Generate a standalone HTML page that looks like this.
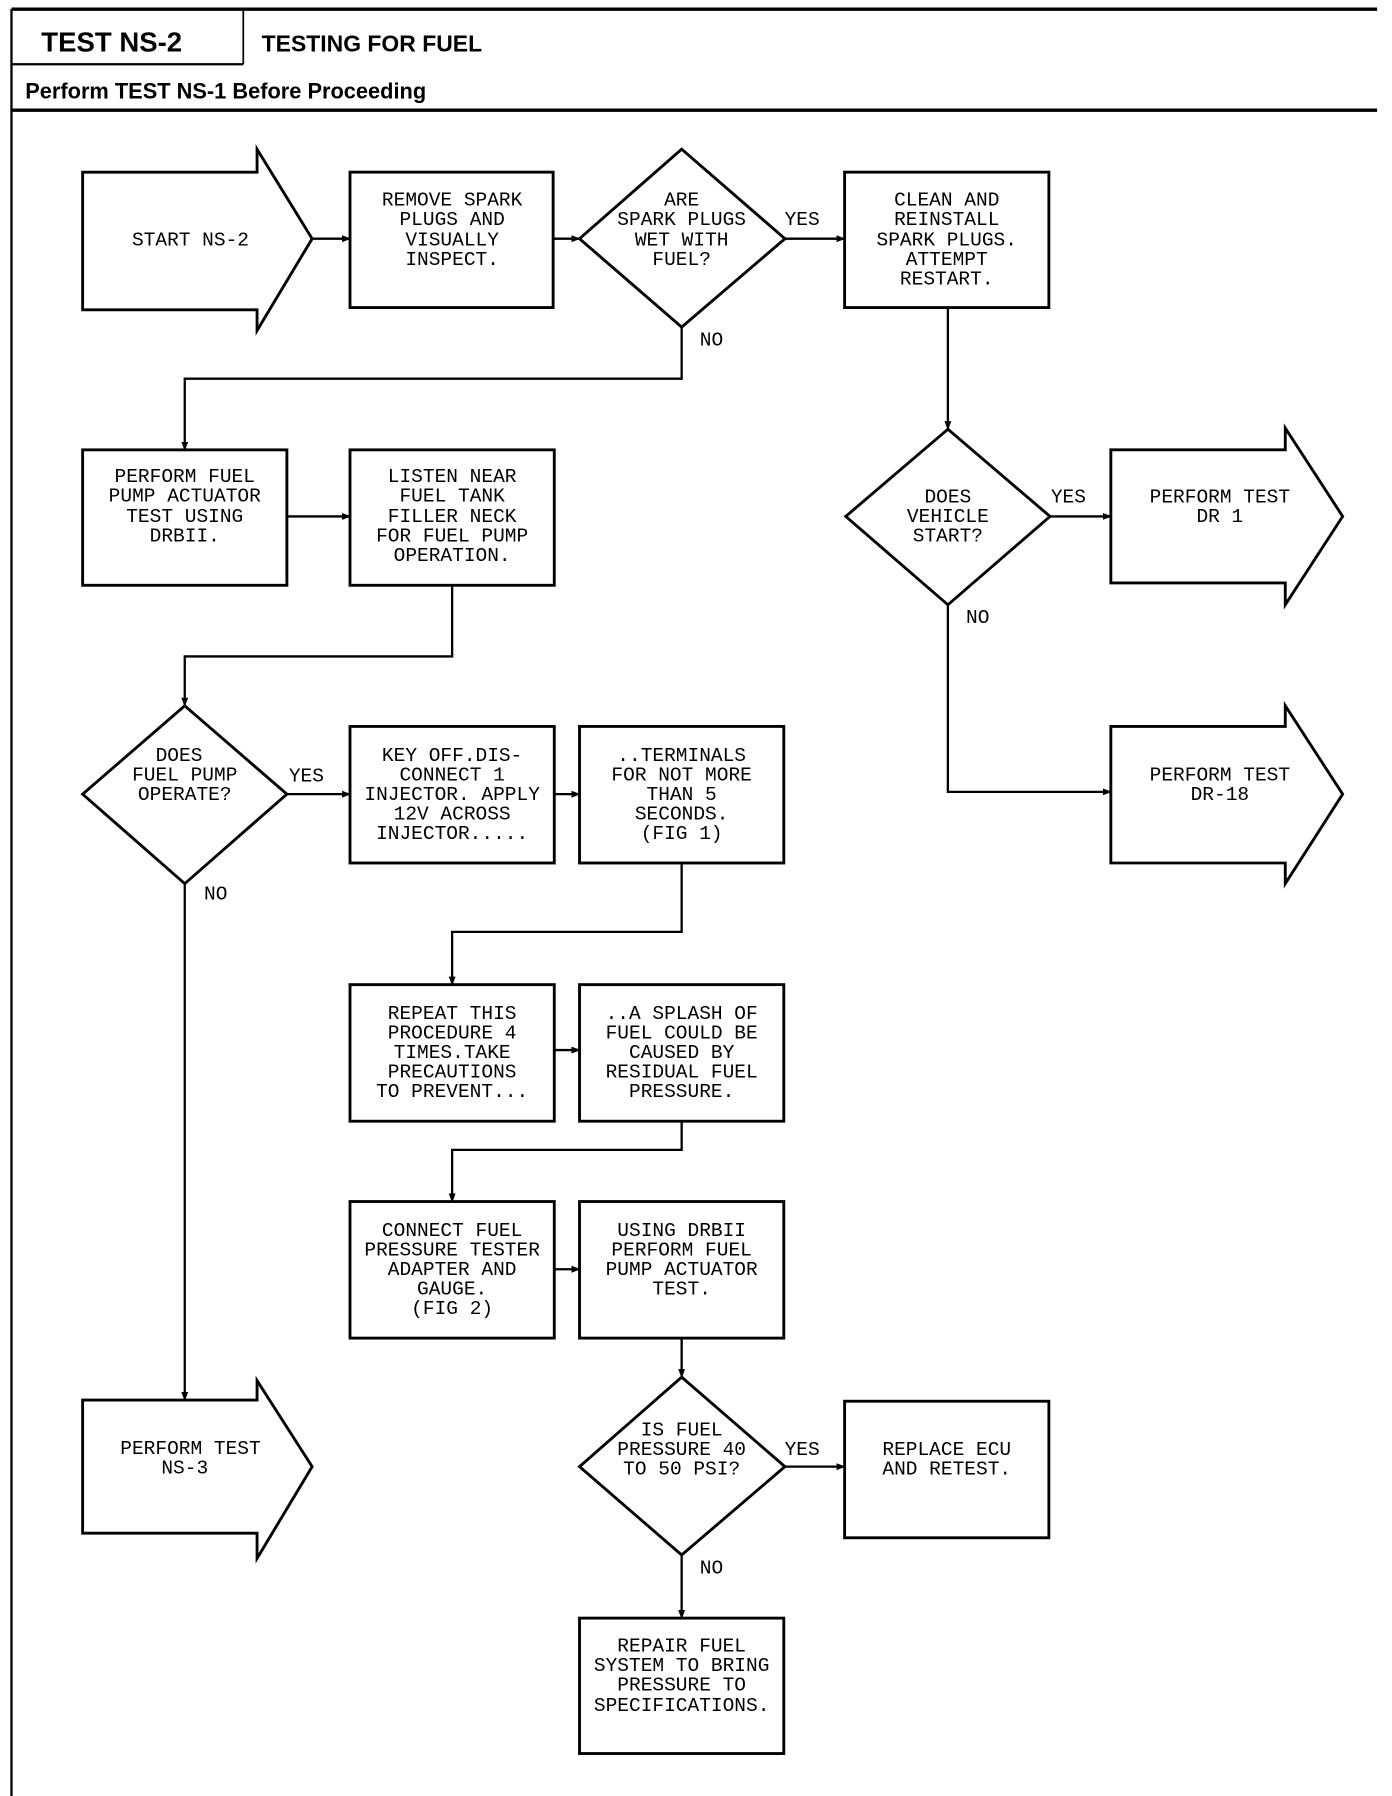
<!DOCTYPE html>
<html><head><meta charset="utf-8"><style>
html,body{margin:0;padding:0;background:#fff;}
svg{display:block;}
.t{font-family:"Liberation Mono",monospace;font-size:17px;fill:#000;text-anchor:middle;}
.h{font-family:"Liberation Sans",sans-serif;font-weight:bold;fill:#000;}
</style></head><body>
<svg width="1392" height="1796" viewBox="0 0 1213 1565" preserveAspectRatio="none" xmlns="http://www.w3.org/2000/svg">
<defs><marker id="a" markerWidth="8" markerHeight="8" refX="7" refY="4" orient="auto" markerUnits="userSpaceOnUse"><path d="M0,1 L8,4 L0,7z" fill="#000"/></marker></defs>
<g stroke="#000" fill="none">
<line x1="10" y1="8" x2="1200" y2="8" stroke-width="3"/>
<line x1="10" y1="8" x2="10" y2="1565" stroke-width="2"/>
<line x1="212" y1="8" x2="212" y2="56" stroke-width="1.5"/>
<line x1="10" y1="56" x2="212" y2="56" stroke-width="2"/>
<line x1="10" y1="96" x2="1200" y2="96" stroke-width="3"/>
</g>
<text class="h" x="36" y="45" font-size="24">TEST NS-2</text>
<text class="h" x="228" y="45" font-size="20">TESTING FOR FUEL</text>
<text class="h" x="22" y="86" font-size="19">Perform TEST NS-1 Before Proceeding</text>

<g stroke="#000" fill="none" stroke-width="2.5">
<!-- arrow shapes -->
<path d="M72,150 H224 V130 L272,208 L224,288 V270 H72 Z"/>
<path d="M72,1220 H224 V1203 L272,1278 L224,1358 V1336 H72 Z"/>
<path d="M968,392 H1120 V373 L1170,450 L1120,527 V508 H968 Z"/>
<path d="M968,633 H1120 V615 L1170,692 L1120,770 V752 H968 Z"/>
<!-- boxes -->
<rect x="305" y="150" width="177" height="118"/>
<rect x="736" y="150" width="178" height="118"/>
<rect x="72" y="392" width="178" height="118"/>
<rect x="305" y="392" width="178" height="118"/>
<rect x="305" y="633" width="178" height="119"/>
<rect x="505" y="633" width="178" height="119"/>
<rect x="305" y="858" width="178" height="119"/>
<rect x="505" y="858" width="178" height="119"/>
<rect x="305" y="1047" width="178" height="119"/>
<rect x="505" y="1047" width="178" height="119"/>
<rect x="736" y="1221" width="178" height="119"/>
<rect x="505" y="1410" width="178" height="118"/>
<!-- diamonds -->
<path d="M594,130 L684,208 L594,285 L505,208 Z"/>
<path d="M161,615 L250,692 L161,770 L72,692 Z"/>
<path d="M594,1200 L684,1278 L594,1355 L505,1278 Z"/>
<path d="M826,374 L915,450 L826,527 L737,450 Z"/>
</g>
<g stroke="#000" fill="none" stroke-width="2" marker-end="url(#a)">
<path d="M272,208 H305"/>
<path d="M482,208 H505"/>
<path d="M684,208 H736"/>
<path d="M594,285 V330 H161 V392"/>
<path d="M250,450 H305"/>
<path d="M394,510 V572 H161 V615"/>
<path d="M250,692 H305"/>
<path d="M483,692 H505"/>
<path d="M594,752 V812 H394 V858"/>
<path d="M483,915 H505"/>
<path d="M594,977 V1002 H394 V1047"/>
<path d="M483,1106 H505"/>
<path d="M594,1166 V1200"/>
<path d="M684,1278 H736"/>
<path d="M594,1355 V1410"/>
<path d="M161,770 V1220"/>
<path d="M826,268 V374"/>
<path d="M915,450 H968"/>
<path d="M826,527 V690 H968"/>
</g>
<g class="t">
<text x="166" y="214">START NS-2</text>
<text x="394" y="179">REMOVE SPARK</text><text x="394" y="196">PLUGS AND</text><text x="394" y="214">VISUALLY</text><text x="394" y="231">INSPECT.</text>
<text x="594" y="179">ARE</text><text x="594" y="196">SPARK PLUGS</text><text x="594" y="214">WET WITH</text><text x="594" y="231">FUEL?</text>
<text x="699" y="196">YES</text><text x="620" y="301">NO</text>
<text x="825" y="179">CLEAN AND</text><text x="825" y="196">REINSTALL</text><text x="825" y="214">SPARK PLUGS.</text><text x="825" y="231">ATTEMPT</text><text x="825" y="248">RESTART.</text>
<text x="161" y="420">PERFORM FUEL</text><text x="161" y="437">PUMP ACTUATOR</text><text x="161" y="455">TEST USING</text><text x="161" y="472">DRBII.</text>
<text x="394" y="420">LISTEN NEAR</text><text x="394" y="437">FUEL TANK</text><text x="394" y="455">FILLER NECK</text><text x="394" y="472">FOR FUEL PUMP</text><text x="394" y="489">OPERATION.</text>
<text x="826" y="438">DOES</text><text x="826" y="455">VEHICLE</text><text x="826" y="472">START?</text>
<text x="931" y="438">YES</text><text x="852" y="543">NO</text>
<text x="1063" y="438">PERFORM TEST</text><text x="1063" y="455">DR 1</text>
<text x="1063" y="680">PERFORM TEST</text><text x="1063" y="697">DR-18</text>
<text x="156" y="663">DOES</text><text x="161" y="680">FUEL PUMP</text><text x="161" y="697">OPERATE?</text>
<text x="267" y="681">YES</text><text x="188" y="784">NO</text>
<text x="394" y="663">KEY OFF.DIS-</text><text x="394" y="680">CONNECT 1</text><text x="394" y="697">INJECTOR. APPLY</text><text x="394" y="714">12V ACROSS</text><text x="394" y="731">INJECTOR.....</text>
<text x="594" y="663">..TERMINALS</text><text x="594" y="680">FOR NOT MORE</text><text x="594" y="697">THAN 5</text><text x="594" y="714">SECONDS.</text><text x="594" y="731">(FIG 1)</text>
<text x="394" y="888">REPEAT THIS</text><text x="394" y="905">PROCEDURE 4</text><text x="394" y="922">TIMES.TAKE</text><text x="394" y="939">PRECAUTIONS</text><text x="394" y="956">TO PREVENT...</text>
<text x="594" y="888">..A SPLASH OF</text><text x="594" y="905">FUEL COULD BE</text><text x="594" y="922">CAUSED BY</text><text x="594" y="939">RESIDUAL FUEL</text><text x="594" y="956">PRESSURE.</text>
<text x="394" y="1077">CONNECT FUEL</text><text x="394" y="1094">PRESSURE TESTER</text><text x="394" y="1111">ADAPTER AND</text><text x="394" y="1128">GAUGE.</text><text x="394" y="1145">(FIG 2)</text>
<text x="594" y="1077">USING DRBII</text><text x="594" y="1094">PERFORM FUEL</text><text x="594" y="1111">PUMP ACTUATOR</text><text x="594" y="1128">TEST.</text>
<text x="594" y="1251">IS FUEL</text><text x="594" y="1268">PRESSURE 40</text><text x="594" y="1285">TO 50 PSI?</text>
<text x="699" y="1268">YES</text><text x="620" y="1371">NO</text>
<text x="825" y="1268">REPLACE ECU</text><text x="825" y="1285">AND RETEST.</text>
<text x="166" y="1267">PERFORM TEST</text><text x="161" y="1284">NS-3</text>
<text x="594" y="1439">REPAIR FUEL</text><text x="594" y="1456">SYSTEM TO BRING</text><text x="594" y="1473">PRESSURE TO</text><text x="594" y="1491">SPECIFICATIONS.</text>
</g>
</svg>
</body></html>
